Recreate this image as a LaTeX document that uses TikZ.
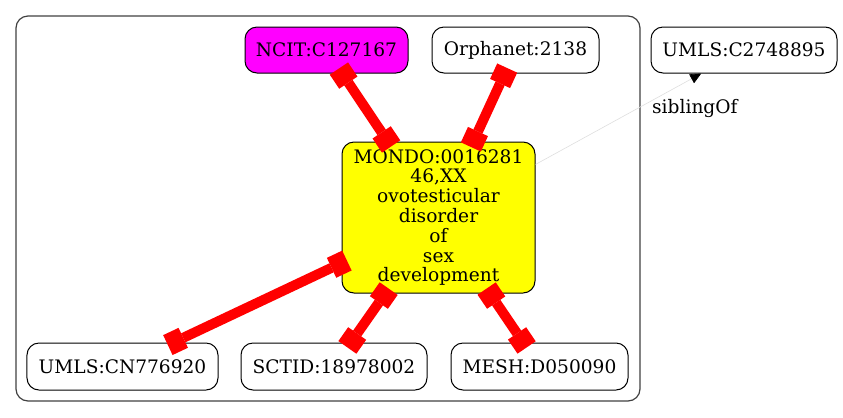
\documentclass[tikz,border=0pt]{standalone}
\usepackage{fontspec}
\setmainfont{DejaVu Serif}
\usetikzlibrary{arrows.meta}
\definecolor{pmag}{RGB}{255,0,255}
\definecolor{pyel}{RGB}{255,255,0}
\definecolor{pred}{RGB}{255,0,0}
\begin{document}
\begin{tikzpicture}[x=1bp,y=-1bp,
  every node/.style={font=\fontsize{18.6bp}{19.8bp}\selectfont},
  termbox/.style={draw=black,line width=1bp,rounded corners=12bp,inner sep=0pt,align=center},
  xref/.style={draw=pred,line width=10bp,
    {Square[length=17bp,width=22bp,line width=0pt]}-{Square[length=17bp,width=22bp,line width=0pt]},
    shorten <=-6bp,shorten >=-6bp},
  sib/.style={draw=black!13,line width=0.6bp,-{Triangle[length=11bp,width=10bp,color=black]}}
  ]
\useasboundingbox (0,0) rectangle (843,417);
\draw[draw=black!75,line width=1.2bp,rounded corners=12bp] (16,16) rectangle (640,401);
\node[termbox,fill=pmag,minimum width=163bp,minimum height=46bp] (ncit) at (326.5,50) {NCIT:C127167};
\node[termbox,minimum width=167bp,minimum height=46bp] (orph) at (515.5,50) {Orphanet:2138};
\node[termbox,minimum width=186bp,minimum height=46bp] (umlsa) at (744,50) {UMLS:C2748895};
\node[termbox,fill=pyel,minimum width=193bp,minimum height=151bp] (mondo) at (438.5,217.5) {MONDO:0016281\\46,XX\\ovotesticular\\disorder\\of\\sex\\development};
\node[termbox,minimum width=191bp,minimum height=47bp] (umlsb) at (122.5,366.5) {UMLS:CN776920};
\node[termbox,minimum width=186bp,minimum height=47bp] (sctid) at (334,366.5) {SCTID:18978002};
\node[termbox,minimum width=177bp,minimum height=47bp] (mesh) at (539.5,366.5) {MESH:D050090};
\draw[xref] (ncit) -- (mondo);
\draw[xref] (orph) -- (mondo);
\draw[xref] (umlsb) -- (mondo);
\draw[xref] (sctid) -- (mondo);
\draw[xref] (mesh) -- (mondo);
\draw[sib] (mondo) -- (umlsa);
\node[anchor=base west,inner sep=0pt] (lab) at (652,113) {siblingOf};
\end{tikzpicture}
\end{document}
